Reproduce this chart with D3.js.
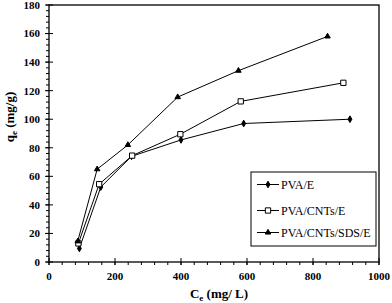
<!DOCTYPE html>
<html>
<head>
<meta charset="utf-8">
<script src="https://cdn.jsdelivr.net/npm/d3@7"></script>
<style>
  body { margin: 0; background: #fff; }
  svg { display: block; }
  text { font-family: "Liberation Serif", "Times New Roman", serif; fill: #000; }
</style>
</head>
<body>
<svg id="chart" width="392" height="303"></svg>
<script>
// data
var seriesNames = ["PVA/E", "PVA/CNTs/E", "PVA/CNTs/SDS/E"];
var pvaX = [92, 157, 250, 400, 590, 912];
var pvaY = [9.5, 52.5, 74, 85.5, 97, 100];
var cntX = [89, 152, 252, 398, 581, 892];
var cntY = [13, 54.5, 74.5, 89.5, 112.5, 125.5];
var sdsX = [87, 146, 239, 390, 574, 844];
var sdsY = [14.5, 65, 82, 115.5, 134, 158];
var xTicks = [0, 200, 400, 600, 800, 1000];
var yTicks = [0, 20, 40, 60, 80, 100, 120, 140, 160, 180];

var svg = d3.select("#chart");
// plot area edges (note: "top" is taken by window.top)
var plotL = 49, plotR = 379, plotT = 5, plotB = 262;

var x = d3.scaleLinear().domain([0, 1000]).range([plotL, plotR]);
var y = d3.scaleLinear().domain([0, 180]).range([plotB, plotT]);

// plot frame
svg.append("rect")
  .attr("x", plotL).attr("y", plotT)
  .attr("width", plotR - plotL).attr("height", plotB - plotT)
  .attr("fill", "none").attr("stroke", "#000").attr("stroke-width", 1.3);

// minor ticks
var xMinor = d3.range(0, 1001, 40);
svg.selectAll(".xminor").data(xMinor).enter().append("line")
  .attr("x1", function(d) { return x(d); }).attr("x2", function(d) { return x(d); })
  .attr("y1", plotB).attr("y2", plotB + 3)
  .attr("stroke", "#000");
var yMinor = d3.range(0, 181, 4);
svg.selectAll(".yminor").data(yMinor).enter().append("line")
  .attr("x1", plotL - 3).attr("x2", plotL)
  .attr("y1", function(d) { return y(d); }).attr("y2", function(d) { return y(d); })
  .attr("stroke", "#000");

// major ticks + labels
svg.selectAll(".xmajor").data(xTicks).enter().append("line")
  .attr("x1", function(d) { return x(d); }).attr("x2", function(d) { return x(d); })
  .attr("y1", plotB - 4).attr("y2", plotB + 3)
  .attr("stroke", "#000");
svg.selectAll(".xlab").data(xTicks).enter().append("text")
  .attr("x", function(d) { return x(d); })
  .attr("y", 280)
  .attr("text-anchor", "middle")
  .style("font-size", "11px").style("font-weight", "bold")
  .text(function(d) { return d; });

svg.selectAll(".ymajor").data(yTicks).enter().append("line")
  .attr("x1", plotL - 4).attr("x2", plotL + 4)
  .attr("y1", function(d) { return y(d); }).attr("y2", function(d) { return y(d); })
  .attr("stroke", "#000");
svg.selectAll(".ylab").data(yTicks).enter().append("text")
  .attr("x", 40)
  .attr("y", function(d) { return y(d); })
  .attr("dy", "0.35em")
  .attr("text-anchor", "end")
  .style("font-size", "11px").style("font-weight", "bold")
  .text(function(d) { return d; });

// axis titles
var xt = svg.append("text")
  .attr("x", 219).attr("y", 298)
  .attr("text-anchor", "middle")
  .style("font-size", "13px").style("font-weight", "bold");
xt.append("tspan").text("C");
xt.append("tspan").attr("dy", 3).style("font-size", "9px").text("e");
xt.append("tspan").attr("dy", -3).text(" (mg/ L)");

var yt = svg.append("text")
  .attr("transform", "translate(14,117) rotate(-90)")
  .attr("text-anchor", "middle")
  .style("font-size", "13px").style("font-weight", "bold");
yt.append("tspan").text("q");
yt.append("tspan").attr("dy", 3).style("font-size", "9px").text("e");
yt.append("tspan").attr("dy", -3).text(" (mg/g)");

// series
var allX = [pvaX, cntX, sdsX];
var allY = [pvaY, cntY, sdsY];
var markers = [d3.symbolDiamond, d3.symbolSquare, d3.symbolTriangle];
var markerSize = [13, 28, 13];
var markerFill = ["#000", "#fff", "#000"];

var line = d3.line()
  .x(function(d) { return x(d[0]); })
  .y(function(d) { return y(d[1]); });

for (var s = 0; s < 3; ++s) {
  var pts = d3.zip(allX[s], allY[s]);
  svg.append("path")
    .attr("d", line(pts))
    .attr("fill", "none").attr("stroke", "#000").attr("stroke-width", 1);
  svg.selectAll(".m" + s).data(pts).enter().append("path")
    .attr("d", d3.symbol().type(markers[s]).size(markerSize[s]))
    .attr("transform", function(d) { return "translate(" + x(d[0]) + "," + y(d[1]) + ")"; })
    .attr("fill", markerFill[s]).attr("stroke", "#000").attr("stroke-width", 1);
}

// legend
var legend = svg.append("g");
legend.append("rect")
  .attr("x", 251).attr("y", 172)
  .attr("width", 125).attr("height", 74)
  .attr("fill", "#fff").attr("stroke", "#000").attr("stroke-width", 1);
var legY = [184.5, 210.5, 232.5];
for (var i = 0; i < 3; ++i) {
  legend.append("line")
    .attr("x1", 257).attr("x2", 279)
    .attr("y1", legY[i]).attr("y2", legY[i])
    .attr("stroke", "#000");
  legend.append("path")
    .attr("d", d3.symbol().type(markers[i]).size(markerSize[i]))
    .attr("transform", "translate(268," + legY[i] + ")")
    .attr("fill", markerFill[i]).attr("stroke", "#000");
  legend.append("text")
    .attr("x", 281).attr("y", legY[i])
    .attr("dy", "0.35em")
    .style("font-size", "12px")
    .text(seriesNames[i]);
}
</script>
</body>
</html>
